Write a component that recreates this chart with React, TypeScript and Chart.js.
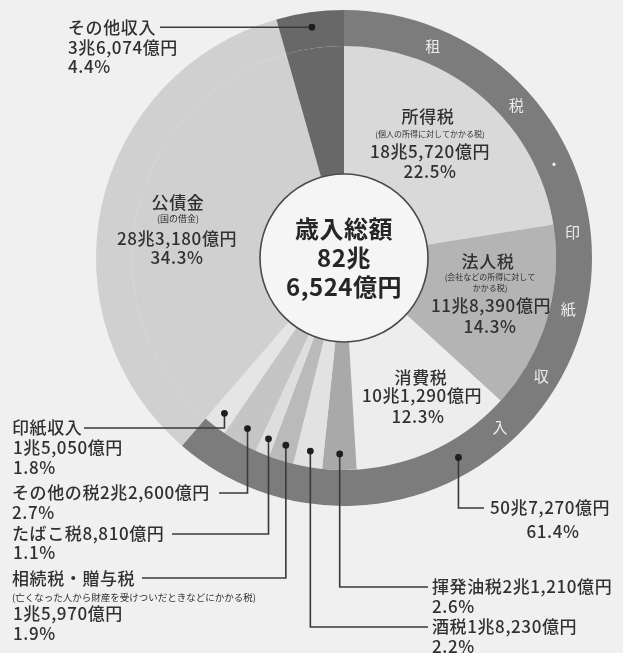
import React, { useEffect, useRef } from "react";
import { Chart, registerables } from "chart.js";

Chart.register(...registerables);

// ---- data ----
const taxNames = ["所得税", "法人税", "消費税", "揮発油税", "酒税", "相続税・贈与税", "たばこ税", "その他の税", "印紙収入"];
const taxAmounts = ["18兆5,720億円", "11兆8,390億円", "10兆1,290億円", "2兆1,210億円", "1兆8,230億円", "1兆5,970億円", "8,810億円", "2兆2,600億円", "1兆5,050億円"];
const taxShares = [22.5, 14.3, 12.3, 2.6, 2.2, 1.9, 1.1, 2.7, 1.8];
const taxNotes = ["(個人の所得に対してかかる税)", "(会社などの所得に対して\nかかる税)", "", "", "", "(亡くなった人から財産を受けついだときなどにかかる税)", "", "", ""];
const otherNames = ["公債金", "その他収入"];
const otherNotes = ["(国の借金)", ""];
const otherAmounts = ["28兆3,180億円", "3兆6,074億円"];
const otherShares = [34.3, 4.4];
const ringTitle = ["租", "税", "・", "印", "紙", "収", "入"];
const ringAmount = "50兆7,270億円";
const ringShare = 61.4;
const totalTitle = "歳入総額";
const totalLines = ["82兆", "6,524億円"];

// ---- styles ----
const taxColors = ["#d9d9d9", "#b4b4b4", "#ededed", "#a9a9a9", "#e2e2e2", "#bababa", "#dedede", "#c5c5c5", "#e5e5e5"];
const otherColors = ["#d0d0d0", "#686868"];
const ringColor = "#7c7c7c";
const FONT = '"Noto Sans CJK JP", "Noto Sans", sans-serif';
const TEXT = "#303030";
const W = "500";

const pct = (v: number) => v.toFixed(1) + "%";

const labelPlugin = {
  id: "labels",
  afterDraw(chart: any) {
    const ctx: any = chart.ctx;
    const inner = chart.getDatasetMeta(1).data as any[];
    const outer = chart.getDatasetMeta(0).data as any[];
    const cx = inner[0].x;
    const cy = inner[0].y;
    const rIn = inner[0].innerRadius;
    const at = (arc: any, r: number, frac = 0.5) => {
      const a = arc.startAngle + (arc.endAngle - arc.startAngle) * frac;
      return [cx + r * Math.cos(a), cy + r * Math.sin(a)];
    };
    ctx.save();

    // center circle
    ctx.beginPath();
    ctx.arc(cx, cy, rIn, 0, Math.PI * 2);
    ctx.fillStyle = "#f5f5f5";
    ctx.fill();
    ctx.lineWidth = 1.6;
    ctx.strokeStyle = "#4a4a4a";
    ctx.stroke();

    const text = (s: string, x: number, y: number, size: number, align: CanvasTextAlign = "left", weight = W, color = TEXT, spacing = "0.6px") => {
      ctx.font = `${weight} ${size}px ${FONT}`;
      ctx.fillStyle = color;
      ctx.textAlign = align;
      ctx.textBaseline = "middle";
      ctx.letterSpacing = spacing;
      ctx.fillText(s, x, y);
    };

    text(totalTitle, cx, cy - 29, 24, "center", "bold", "#262626", "0.5px");
    text(totalLines[0], cx, cy, 24, "center", "bold", "#262626", "0.5px");
    text(totalLines[1], cx, cy + 29, 24, "center", "bold", "#262626", "0.5px");

    // ring characters
    const ringR = (outer[0].innerRadius + outer[0].outerRadius) / 2;
    const ringDeg = [22.7, 48.5, 66, 83.6, 102.8, 120.9, 137.3];
    ringTitle.forEach((c, i) => {
      const a = -Math.PI / 2 + (ringDeg[i] * Math.PI) / 180;
      text(c, cx + ringR * Math.cos(a), cy + ringR * Math.sin(a), 15, "center", "normal", "#ececec", "0px");
    });

    // inline labels
    const fs = 17;
    // 所得税
    text(taxNames[0], 428, 117, fs, "center");
    text(taxNotes[0], 430, 134, 8, "center", "normal", TEXT, "0px");
    text(taxAmounts[0], 430, 152, fs, "center");
    text(pct(taxShares[0]), 430, 172, fs, "center");
    // 法人税
    const n1 = taxNotes[1].split("\n");
    text(taxNames[1], 488, 262, fs, "center");
    text(n1[0], 490, 277, 8, "center", "normal", TEXT, "0px");
    text(n1[1], 490, 288, 8, "center", "normal", TEXT, "0px");
    text(taxAmounts[1], 491, 306, fs, "center");
    text(pct(taxShares[1]), 490, 327, fs, "center");
    // 消費税
    text(taxNames[2], 421, 378, fs, "center");
    text(taxAmounts[2], 422, 396, fs, "center");
    text(pct(taxShares[2]), 418, 417, fs, "center");
    // 公債金
    text(otherNames[0], 178, 203, fs, "center");
    text(otherNotes[0], 178, 219, 9, "center", "normal", TEXT, "0px");
    text(otherAmounts[0], 177, 239, fs, "center");
    text(pct(otherShares[0]), 177, 258, fs, "center");

    ctx.strokeStyle = "#3a3a3a";
    ctx.lineWidth = 1.6;
    const dot = (x: number, y: number) => {
      ctx.beginPath();
      ctx.arc(x, y, 3.4, 0, Math.PI * 2);
      ctx.fillStyle = "#1e1e1e";
      ctx.fill();
    };
    const poly = (pts: number[][]) => {
      ctx.beginPath();
      ctx.moveTo(pts[0][0], pts[0][1]);
      for (let k = 1; k < pts.length; k++) ctx.lineTo(pts[k][0], pts[k][1]);
      ctx.stroke();
    };

    // その他収入
    {
      const [x, y] = at(inner[10], 233);
      poly([[160, y], [x, y]]);
      dot(x, y);
      text(otherNames[1], 68, 28, fs);
      text(otherAmounts[1], 68, 48, fs);
      text(pct(otherShares[1]), 68, 67, fs);
    }

    // ring total
    {
      const [x, y] = at(outer[0], ringR, 0.68);
      poly([[x, y], [x, 508], [484, 508]]);
      dot(x, y);
      text(ringAmount, 490, 508, fs);
      text(pct(ringShare), 553, 532, fs, "center");
    }

    // small taxes on the left
    const leftRows: [number, number, number][] = [
      [8, 428, 84],
      [7, 493, 219],
      [6, 534, 172],
      [5, 578, 142],
    ];
    leftRows.forEach(([i, ly, ex]) => {
      const [x, y] = at(inner[i], 196);
      poly([[x, y], [x, ly], [ex, ly]]);
      dot(x, y);
    });
    // 印紙収入
    text(taxNames[8], 12, 428, fs);
    text(taxAmounts[8], 13, 448, fs);
    text(pct(taxShares[8]), 13, 468, fs);
    // その他の税
    text(taxNames[7] + taxAmounts[7], 12, 493, fs);
    text(pct(taxShares[7]), 12, 513, fs);
    // たばこ税
    text(taxNames[6] + taxAmounts[6], 12, 534, fs);
    text(pct(taxShares[6]), 13, 553, fs);
    // 相続税・贈与税
    text(taxNames[5], 12, 579, fs);
    text(taxNotes[5], 12, 597, 9.5, "left", "normal", TEXT, "0px");
    text(taxAmounts[5], 13, 614, fs);
    text(pct(taxShares[5]), 13, 634, fs);

    // small taxes on the right
    const rightRows: [number, number][] = [
      [3, 587],
      [4, 627],
    ];
    rightRows.forEach(([i, ly]) => {
      const [x, y] = at(inner[i], 196);
      poly([[x, y], [x, ly], [428, ly]]);
      dot(x, y);
      text(taxNames[i] + taxAmounts[i], 432, ly, fs);
      text(pct(taxShares[i]), 432, ly + 20, fs);
    });

    ctx.restore();
  },
};

export default function App() {
  const ref = useRef<HTMLCanvasElement>(null);
  useEffect(() => {
    if (!ref.current) return;
    const taxTotal = taxShares.reduce((a, b) => a + b, 0);
    const chart = new Chart(ref.current, {
      type: "doughnut",
      data: {
        labels: [...taxNames, ...otherNames],
        datasets: [
          {
            data: [taxTotal, ...otherShares],
            backgroundColor: [ringColor, ...otherColors],
            borderWidth: 0,
            weight: 36,
            hoverOffset: 0,
            offset: 0,
          } as any,
          {
            data: [...taxShares, ...otherShares],
            backgroundColor: [...taxColors, ...otherColors],
            borderWidth: 0,
            weight: 128,
            hoverOffset: 0,
            offset: 0,
          } as any,
        ],
      },
      options: {
        animation: false,
        responsive: false,
        cutout: 84,
        spacing: 0,
        events: [],
        layout: { padding: { left: 96, right: 31, top: 10, bottom: 147 } },
        plugins: { legend: { display: false }, tooltip: { enabled: false } },
      } as any,
      plugins: [labelPlugin],
    });
    return () => chart.destroy();
  }, []);
  return (
    <div style={{ position: "fixed", left: 0, top: 0, width: 623, height: 653, background: "#f0f0f0" }}>
      <canvas ref={ref} width={623} height={653} style={{ display: "block" }} />
    </div>
  );
}
